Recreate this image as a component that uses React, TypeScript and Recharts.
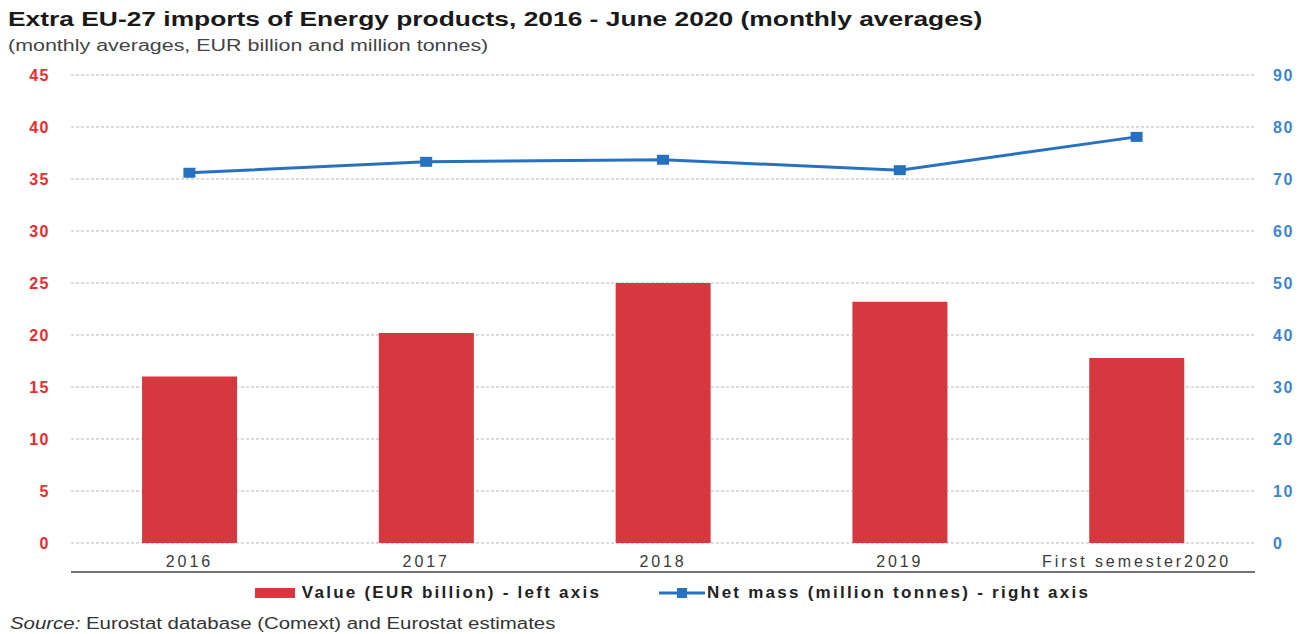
import React from 'react';
import { ComposedChart, Bar, Line, XAxis, YAxis, CartesianGrid, Legend } from 'recharts';

const categories = ['2016', '2017', '2018', '2019', 'First semester2020'];
const valueEurBillion = [16.0, 20.2, 25.0, 23.2, 17.8];
const netMassMillionTonnes = [71.2, 73.3, 73.7, 71.7, 78.1];
const leftTicks = [0, 5, 10, 15, 20, 25, 30, 35, 40, 45];
const rightTicks = [0, 10, 20, 30, 40, 50, 60, 70, 80, 90];
const boundaryTicks = categories.map((_, i) => i).concat([categories.length]);

const data = categories.map((c, i) => ({
  category: c,
  value: valueEurBillion[i],
  mass: netMassMillionTonnes[i],
}));

const FONT = '"Liberation Sans", Arial, sans-serif';
const RED = '#d7373e';
const BLUE = '#2870c0';

const SquareDot = (props: any) => {
  const { cx, cy } = props;
  if (cx == null || cy == null) return null;
  return <rect x={cx - 6} y={cy - 5} width={12} height={10} fill={BLUE} />;
};

const LegendContent = () => (
  <div
    style={{
      display: 'flex',
      justifyContent: 'center',
      alignItems: 'center',
      height: 40,
      width: 1309,
      fontFamily: FONT,
      fontWeight: 'bold',
      fontSize: 17,
      letterSpacing: 2.25,
      color: '#222',
      paddingLeft: 36,
      boxSizing: 'border-box',
    }}
  >
    <div style={{ display: 'flex', alignItems: 'center', marginRight: 58 }}>
      <div style={{ width: 40, height: 10, background: RED, marginRight: 7 }} />
      <span>Value (EUR billion) - left axis</span>
    </div>
    <div style={{ display: 'flex', alignItems: 'center' }}>
      <svg width={46} height={12} style={{ marginRight: 2 }}>
        <line x1={0} y1={6} x2={46} y2={6} stroke={BLUE} strokeWidth={3} />
        <rect x={18} y={1} width={10} height={10} fill={BLUE} />
      </svg>
      <span>Net mass (million tonnes) - right axis</span>
    </div>
  </div>
);

export default function App() {
  return (
    <div style={{ position: 'absolute', left: 0, top: 0, width: 1309, height: 634, background: '#fff', overflow: 'hidden' }}>
      <div
        style={{
          position: 'absolute',
          left: 8,
          top: 7,
          fontFamily: FONT,
          fontWeight: 'bold',
          fontSize: 20.5,
          color: '#1a1a1a',
          whiteSpace: 'nowrap',
          transform: 'scaleX(1.286)',
          transformOrigin: 'left top',
        }}
      >
        Extra EU-27 imports of Energy products, 2016 - June 2020 (monthly averages)
      </div>
      <div
        style={{
          position: 'absolute',
          left: 8,
          top: 37,
          fontFamily: FONT,
          fontSize: 16,
          color: '#444',
          whiteSpace: 'nowrap',
          transform: 'scaleX(1.34)',
          transformOrigin: 'left top',
        }}
      >
        (monthly averages, EUR billion and million tonnes)
      </div>
      <div style={{ position: 'absolute', left: 0, top: 0 }}>
        <ComposedChart
          width={1309}
          height={634}
          data={data}
          margin={{ top: 75, right: 0, bottom: 21, left: 0 }}
          barCategoryGap="30%"
        >
          <CartesianGrid
            vertical={false}
            stroke="#b5b5b5"
            strokeDasharray="3 2"
            yAxisId="left"
            xAxisId="cat"
          />
          <XAxis
            xAxisId="edges"
            type="number"
            domain={[0, categories.length]}
            allowDataOverflow={true}
            ticks={boundaryTicks}
            tick={false}
            height={1}
            axisLine={{ stroke: '#444', strokeWidth: 1.5 }}
            tickLine={{ stroke: '#444', strokeWidth: 1.5 }}
            tickSize={5}
          />
          <XAxis
            xAxisId="cat"
            dataKey="category"
            height={29}
            axisLine={false}
            tickLine={false}
            tickMargin={7}
            interval={0}
            tick={{ fill: '#3a3a3a', fontSize: 16, fontFamily: FONT, letterSpacing: 2.9 }}
          />
          <YAxis
            yAxisId="left"
            orientation="left"
            width={71}
            domain={[0, 45]}
            ticks={leftTicks}
            axisLine={false}
            tickLine={false}
            tickSize={0}
            tickMargin={21}
            tick={{ fill: '#ee2a2e', fontSize: 16, fontWeight: 'bold', fontFamily: FONT, letterSpacing: 1.5 }}
          />
          <YAxis
            yAxisId="right"
            orientation="right"
            width={54}
            domain={[0, 90]}
            ticks={rightTicks}
            axisLine={false}
            tickLine={false}
            tickSize={0}
            tickMargin={18}
            tick={{ fill: '#3a86d0', fontSize: 16, fontWeight: 'bold', fontFamily: FONT, textAnchor: 'start', letterSpacing: 1.5 }}
          />
          <Legend verticalAlign="bottom" content={<LegendContent />} wrapperStyle={{ left: 0, width: 1309 }} />
          <Bar
            xAxisId="cat"
            yAxisId="left"
            dataKey="value"
            fill={RED}
            isAnimationActive={false}
          />
          <Line
            xAxisId="cat"
            yAxisId="right"
            dataKey="mass"
            stroke={BLUE}
            strokeWidth={3}
            dot={<SquareDot />}
            activeDot={false}
            isAnimationActive={false}
          />
        </ComposedChart>
      </div>
      <div
        style={{
          position: 'absolute',
          left: 10,
          top: 615,
          fontFamily: FONT,
          fontSize: 16,
          color: '#333',
          whiteSpace: 'nowrap',
          transform: 'scaleX(1.275)',
          transformOrigin: 'left top',
        }}
      >
        <i>Source:</i> Eurostat database (Comext) and Eurostat estimates
      </div>
    </div>
  );
}
